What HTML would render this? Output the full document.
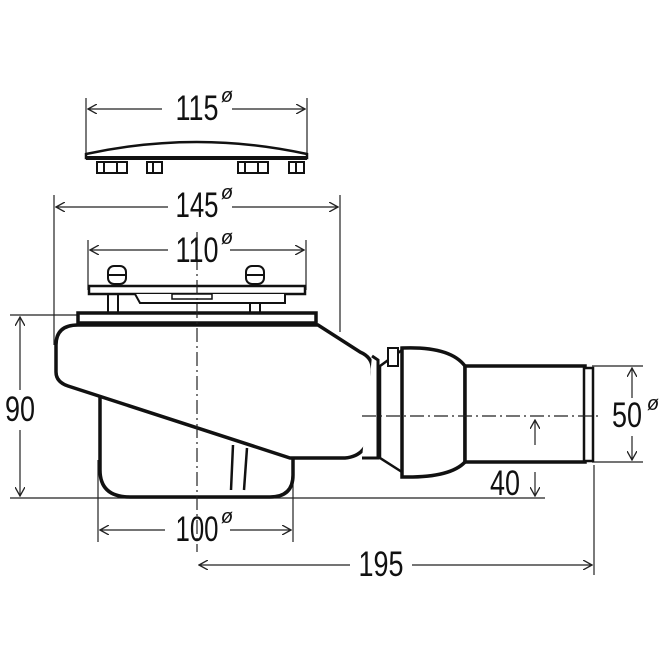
<!DOCTYPE html>
<html><head><style>html,body{margin:0;padding:0;background:#fff}svg{display:block}</style></head>
<body>
<svg width="665" height="665" viewBox="0 0 665 665" xmlns="http://www.w3.org/2000/svg" font-family="Liberation Sans, sans-serif">
<defs>
<marker id="a" markerWidth="10" markerHeight="10" refX="9" refY="5" orient="auto-start-reverse" markerUnits="userSpaceOnUse"><path d="M0,0 L9,5 L0,10" fill="none" stroke="#222" stroke-width="1.3"/></marker>
</defs>
<g stroke="#222" stroke-width="1.2" fill="none">
<line x1="86" y1="98" x2="86" y2="158"/><line x1="307" y1="98" x2="307" y2="158"/>
<line x1="54" y1="195" x2="54" y2="345"/><line x1="340" y1="195" x2="340" y2="332"/>
<line x1="88" y1="240" x2="88" y2="290"/><line x1="306" y1="240" x2="306" y2="290"/>
<line x1="10" y1="315" x2="80" y2="315"/>
<line x1="10" y1="498" x2="545" y2="498"/>
<line x1="98" y1="460" x2="98" y2="542"/><line x1="293" y1="470" x2="293" y2="542"/>
<line x1="594" y1="465" x2="594" y2="575"/>
<line x1="592" y1="366" x2="643" y2="366"/><line x1="592" y1="462" x2="643" y2="462"/>
<line x1="88" y1="109" x2="162" y2="109" marker-start="url(#a)"/><line x1="232" y1="109" x2="305" y2="109" marker-end="url(#a)"/>
<line x1="56" y1="207" x2="168" y2="207" marker-start="url(#a)"/><line x1="232" y1="207" x2="338" y2="207" marker-end="url(#a)"/>
<line x1="90" y1="250" x2="168" y2="250" marker-start="url(#a)"/><line x1="230" y1="250" x2="304" y2="250" marker-end="url(#a)"/>
<line x1="20" y1="317" x2="20" y2="390" marker-start="url(#a)"/><line x1="20" y1="430" x2="20" y2="496" marker-end="url(#a)"/>
<line x1="100" y1="530" x2="165" y2="530" marker-start="url(#a)"/><line x1="230" y1="530" x2="291" y2="530" marker-end="url(#a)"/>
<line x1="199" y1="565" x2="350" y2="565" marker-start="url(#a)"/><line x1="412" y1="565" x2="592" y2="565" marker-end="url(#a)"/>
<line x1="632" y1="368" x2="632" y2="398" marker-start="url(#a)"/><line x1="632" y1="436" x2="632" y2="460" marker-end="url(#a)"/>
<line x1="535" y1="472" x2="535" y2="496" marker-end="url(#a)"/>
</g>
<g stroke="#111" fill="#fff" stroke-width="3">
<path d="M86,154 Q197,130 307,154 L307,158 L86,158 Z" stroke-width="2.5"/>
<line x1="86" y1="158" x2="307" y2="158" stroke-width="4"/>
<g stroke-width="2"><rect x="97" y="162" width="30" height="11"/><line x1="104" y1="162" x2="104" y2="173"/><line x1="117" y1="162" x2="117" y2="173"/>
<rect x="147" y="162" width="15" height="11"/><line x1="153" y1="162" x2="153" y2="173"/>
<rect x="238" y="162" width="30" height="11"/><line x1="245" y1="162" x2="245" y2="173"/><line x1="258" y1="162" x2="258" y2="173"/>
<rect x="289" y="162" width="15" height="11"/><line x1="296" y1="162" x2="296" y2="173"/></g>
<g stroke-width="2"><rect x="108" y="294" width="10" height="20"/><rect x="250" y="294" width="10" height="20"/>
<rect x="108" y="266" width="18" height="18" rx="6"/><rect x="246" y="266" width="18" height="18" rx="6"/>
<line x1="108" y1="275" x2="126" y2="275"/><line x1="246" y1="275" x2="264" y2="275"/></g>
<rect x="89" y="286" width="216" height="8" stroke-width="2.5"/>
<path d="M135,294 L140,303 L285,303 L285,294" stroke-width="2"/>
<rect x="172" y="294" width="40" height="5" stroke-width="1.5"/>
<path d="M100,395 L100,470 Q100,497 130,497 L270,497 Q293,497 293,475 L293,455" stroke-width="3.5"/>
<path d="M233,445 L231,490 M247,448 L244,490" stroke-width="2.5"/>
<path d="M78,325 Q56,325 56,345 L56,372 Q56,382 68,386 L290,458 L345,458 Q368,456 370,430 L372,372 Q374,358 360,352 L318,325 Z" stroke-width="3.5"/>
<rect x="78" y="313" width="238" height="10" stroke-width="3.5"/>
<path d="M362,458 L378,458 L378,360 L372,356" stroke-width="3"/>
<path d="M380,366 L402,350 L402,472 L380,458 Z" stroke-width="2.5"/>
<rect x="388" y="348" width="10" height="18" stroke-width="2"/>
<path d="M402,348 Q450,346 465,366 L465,462 Q450,478 402,477 Z" stroke-width="3.5"/>
<rect x="465" y="366" width="120" height="96" stroke-width="3.5"/>
<rect x="584" y="368" width="9" height="93" stroke-width="2.5"/>
</g>
<g stroke="#222" stroke-width="1.2" fill="none">
<line x1="197" y1="232" x2="197" y2="552" stroke-dasharray="14,4,2,4"/>
<line x1="362" y1="416" x2="600" y2="416" stroke-dasharray="14,4,2,4"/>
<line x1="535" y1="445" x2="535" y2="420" marker-end="url(#a)"/>
</g>
<g fill="#111" font-size="35" text-anchor="middle">
<text x="197" y="120" textLength="43" lengthAdjust="spacingAndGlyphs">115</text>
<text x="197" y="217" textLength="43" lengthAdjust="spacingAndGlyphs">145</text>
<text x="197" y="262" textLength="43" lengthAdjust="spacingAndGlyphs">110</text>
<text x="20" y="421" textLength="30" lengthAdjust="spacingAndGlyphs">90</text>
<text x="197" y="541" textLength="43" lengthAdjust="spacingAndGlyphs">100</text>
<text x="381" y="576" textLength="45" lengthAdjust="spacingAndGlyphs">195</text>
<text x="627" y="427" textLength="30" lengthAdjust="spacingAndGlyphs">50</text>
<text x="505" y="495" textLength="30" lengthAdjust="spacingAndGlyphs">40</text>
</g>
<g fill="#111" font-size="20" font-style="italic" text-anchor="middle">
<text x="227" y="102">ø</text><text x="227" y="199">ø</text><text x="227" y="244">ø</text>
<text x="227" y="523">ø</text><text x="653" y="410">ø</text>
</g>
</svg>
</body></html>
